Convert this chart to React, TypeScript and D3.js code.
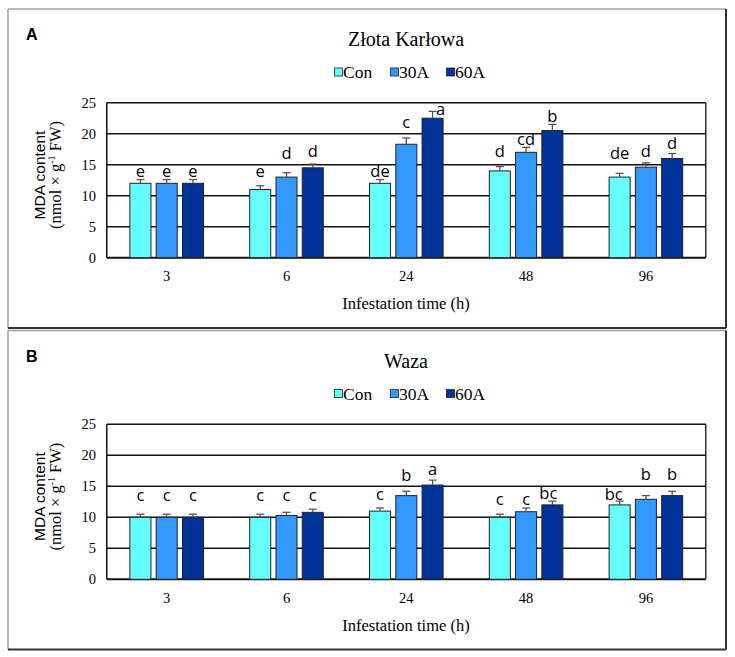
import React from "react";
import * as d3 from "d3";

// ---------- data ----------
const times = ["3", "6", "24", "48", "96"];
const series = ["Con", "30A", "60A"];
const yTicks = [0, 5, 10, 15, 20, 25];

// Panel A: Złota Karłowa
const conA = [12.0, 11.0, 12.0, 14.0, 13.0];
const a30A = [12.0, 13.0, 18.3, 17.0, 14.6];
const a60A = [12.0, 14.5, 22.5, 20.5, 16.0];
const errConA = [0.6, 0.6, 0.6, 0.7, 0.6];
const err30A_A = [0.6, 0.7, 1.0, 0.8, 0.7];
const err60A_A = [0.6, 0.6, 1.1, 1.0, 0.8];
const letConA = ["e", "e", "de", "d", "de"];
const let30A_A = ["e", "d", "c", "cd", "d"];
const let60A_A = ["e", "d", "a", "b", "d"];
const lvlConA = [13.0, 13.0, 13.0, 16.3, 16.0];
const lvl30A_A = [13.0, 16.0, 20.9, 18.2, 16.2];
const lvl60A_A = [13.0, 16.3, 23.0, 21.9, 17.6];

// Panel B: Waza
const conB = [10.0, 10.0, 11.0, 10.0, 12.0];
const b30A = [10.0, 10.3, 13.5, 10.9, 12.9];
const b60A = [10.0, 10.8, 15.2, 12.0, 13.5];
const errConB = [0.5, 0.5, 0.5, 0.5, 0.6];
const err30A_B = [0.5, 0.5, 0.7, 0.6, 0.6];
const err60A_B = [0.5, 0.5, 0.8, 0.6, 0.7];
const letConB = ["c", "c", "c", "c", "bc"];
const let30A_B = ["c", "c", "b", "c", "b"];
const let60A_B = ["c", "c", "a", "bc", "b"];
const lvlConB = [12.6, 12.6, 12.8, 12.0, 12.8];
const lvl30A_B = [12.6, 12.6, 15.9, 12.0, 16.0];
const lvl60A_B = [12.6, 12.6, 16.8, 12.95, 16.0];

const colors = ["#66ffff", "#3399ff", "#003399"];

const panels = [
  {
    tag: "A",
    title: "Złota Karłowa",
    values: [conA, a30A, a60A],
    errs: [errConA, err30A_A, err60A_A],
    letters: [letConA, let30A_A, let60A_A],
    levels: [lvlConA, lvl30A_A, lvl60A_A],
    dx: [[0, 0, 0, 0, 0], [0, 0, 0, 0, 0], [0, 0, 8, 0, 0]],
  },
  {
    tag: "B",
    title: "Waza",
    values: [conB, b30A, b60A],
    errs: [errConB, err30A_B, err60A_B],
    letters: [letConB, let30A_B, let60A_B],
    levels: [lvlConB, lvl30A_B, lvl60A_B],
    dx: [[0, 0, 0, 0, -6], [0, 0, 0, 0, 0], [0, 0, 0, -4, 0]],
  },
];

const SERIF = "'Liberation Serif', 'Times New Roman', serif";
const SANS = "'Liberation Sans', Arial, sans-serif";
const LETTER = "'Open Sans', 'Liberation Sans', sans-serif";

function Panel({ p, oy }: { p: (typeof panels)[0]; oy: number }) {
  const left = 106.8;
  const right = 705.8;
  const top = 102.7;
  const bottom = 257.7;
  const x0 = d3.scaleBand<string>().domain(times).range([left, right]).padding(0);
  const x1 = d3
    .scaleBand<string>()
    .domain(series)
    .range([0, x0.bandwidth()])
    .paddingInner(0.2)
    .paddingOuter(0.88);
  const y = d3.scaleLinear().domain([0, 25]).range([bottom, top]);
  const bw = x1.bandwidth();

  return (
    <g transform={`translate(0,${oy})`}>
      {/* panel frame */}
      <line x1={8} y1={9} x2={726} y2={9} stroke="#a0a0a0" strokeWidth={1.5} />
      <line x1={8} y1={9} x2={8} y2={328} stroke="#a0a0a0" strokeWidth={1.5} />
      <line x1={726} y1={9} x2={726} y2={328} stroke="#333" strokeWidth={2} />
      <line x1={8} y1={328} x2={726} y2={328} stroke="#333" strokeWidth={2} />

      <text x={26} y={40} fontFamily={SANS} fontWeight="bold" fontSize={16} fill="#000">
        {p.tag}
      </text>
      <text x={406} y={46} textAnchor="middle" fontFamily={SERIF} fontSize={20} fill="#000">
        {p.title}
      </text>

      {/* legend */}
      {series.map((s, i) => (
        <g key={s} transform={`translate(${334.5 + i * 56},0)`}>
          <rect x={0} y={68} width={8} height={8} fill={colors[i]} stroke="#222" strokeWidth={0.8} />
          <text x={8.5} y={78} fontFamily={SERIF} fontSize={17.5} fill="#000">
            {s}
          </text>
        </g>
      ))}

      {/* gridlines */}
      {yTicks.map((t) => (
        <line
          key={t}
          x1={left}
          x2={right}
          y1={y(t)}
          y2={y(t)}
          stroke="#111"
          strokeWidth={t === 0 ? 2 : 1.4}
        />
      ))}
      <line x1={left} x2={left} y1={top} y2={bottom} stroke="#111" strokeWidth={1.5} />
      <line x1={right} x2={right} y1={top} y2={bottom} stroke="#111" strokeWidth={1.3} />

      {/* y tick labels */}
      {yTicks.map((t) => (
        <text
          key={t}
          x={96}
          y={y(t) + 5}
          textAnchor="end"
          fontFamily={SERIF}
          fontSize={14.5}
          fill="#000"
        >
          {t}
        </text>
      ))}

      {/* bars */}
      {series.map((s, si) =>
        times.map((tm, ti) => {
          const v = p.values[si][ti];
          const e = p.errs[si][ti];
          const bx = (x0(tm) as number) + (x1(s) as number);
          const cx = bx + bw / 2;
          return (
            <g key={s + tm}>
              <rect
                x={bx}
                y={y(v)}
                width={bw}
                height={y(0) - y(v)}
                fill={colors[si]}
                stroke="#222"
                strokeWidth={1}
              />
              <line x1={cx} x2={cx} y1={y(v)} y2={y(v + e)} stroke="#555" strokeWidth={1.3} />
              <line x1={cx - 4} x2={cx + 4} y1={y(v + e)} y2={y(v + e)} stroke="#555" strokeWidth={1.3} />
              <text
                x={cx + p.dx[si][ti]}
                y={y(p.levels[si][ti])}
                textAnchor="middle"
                fontFamily={LETTER}
                fontSize={16.5}
                fill="#000"
              >
                {p.letters[si][ti]}
              </text>
            </g>
          );
        })
      )}

      {/* x tick labels */}
      {times.map((tm) => (
        <text
          key={tm}
          x={(x0(tm) as number) + x0.bandwidth() / 2}
          y={281}
          textAnchor="middle"
          fontFamily={SERIF}
          fontSize={14.5}
          fill="#000"
        >
          {tm}
        </text>
      ))}
      <text x={406} y={309} textAnchor="middle" fontFamily={SERIF} fontSize={16.5} fill="#000">
        Infestation time (h)
      </text>

      {/* y axis title */}
      <text
        transform="translate(45,175) rotate(-90)"
        textAnchor="middle"
        fontFamily={SANS}
        fontSize={15.5}
        fill="#000"
      >
        MDA content
      </text>
      <text
        transform="translate(61,175) rotate(-90)"
        textAnchor="middle"
        fontFamily={SERIF}
        fontSize={16.5}
        fill="#000"
      >
        (nmol × g
        <tspan fontSize={10} dy={-6}>
          -1
        </tspan>
        <tspan dy={6}> FW)</tspan>
      </text>
    </g>
  );
}

export default function App() {
  return (
    <svg
      width={735}
      height={657}
      style={{ position: "absolute", left: 0, top: 0, background: "#fff" }}
    >
      <rect x={0} y={0} width={735} height={657} fill="#fff" />
      <Panel p={panels[0]} oy={0} />
      <Panel p={panels[1]} oy={321.6} />
    </svg>
  );
}
